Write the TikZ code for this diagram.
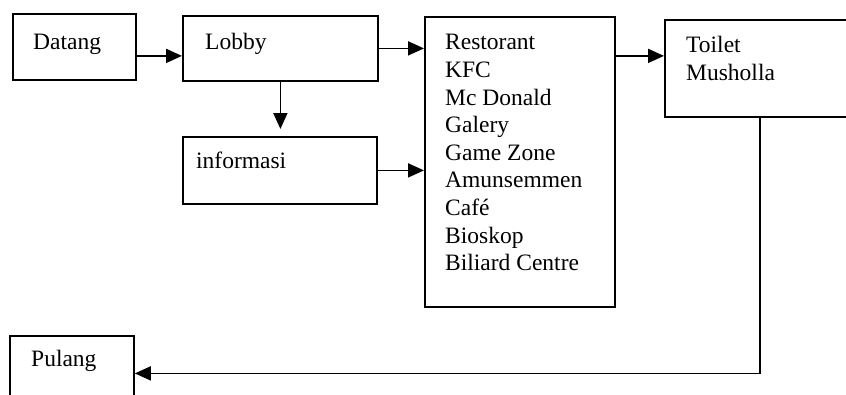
\documentclass[tikz,border=0pt]{standalone}
\usepackage{fontspec}
\setmainfont{Liberation Serif}
\usetikzlibrary{arrows.meta}
\begin{document}
\begin{tikzpicture}[x=1pt,y=-1pt,
  box/.style={draw, line width=1.8pt, inner sep=0pt, anchor=north west},
  txt/.style={inner sep=0pt, font=\fontsize{23.5}{27.6}\selectfont},
  arr/.style={line width=1.8pt, -{Triangle[length=16pt,width=14pt]}}]
\useasboundingbox (0,0) rectangle (846,394);
\clip (0,0) rectangle (846,394);
% boxes
\node[box, minimum width=123pt, minimum height=66pt] (datang) at (12,13) {};
\node[box, minimum width=195pt, minimum height=65pt] (lobby) at (182,15) {};
\node[box, minimum width=194pt, minimum height=67pt] (info) at (182,136) {};
\node[box, minimum width=190pt, minimum height=290pt] (rest) at (424,16) {};
\node[box, minimum width=210pt, minimum height=97pt] (toilet) at (664,19) {};
\node[box, minimum width=124pt, minimum height=75pt] (pulang) at (9,335) {};
% texts
\node[txt, anchor=base west] (tdatang) at (33,49) {Datang};
\node[txt, anchor=base west] (tlobby) at (205,49) {Lobby};
\node[txt, anchor=base west] (tinfo) at (196,168) {informasi};
\node[txt, anchor=north west, align=left] (trest) at (445,34.4)
  {Restorant\\KFC\\Mc Donald\\Galery\\Game Zone\\Amunsemmen\\Café\\Bioskop\\Biliard Centre};
\node[txt, anchor=north west, align=left] (ttoilet) at (686,35.9) {Toilet\\Musholla};
\node[txt, anchor=base west] (tpulang) at (31,366) {Pulang};
% connectors
\draw[arr] ([yshift=-9pt]datang.east) -- ([yshift=-9pt]datang.east -| lobby.west);
\draw[arr] (lobby.east) -- (lobby.east -| rest.west);
\draw[arr, shorten >=7pt] (lobby.south) -- (lobby.south |- info.north);
\draw[arr] (info.east) -- (info.east -| rest.west);
\draw[arr] ([yshift=12.5pt]toilet.west -| rest.east) -- ([yshift=12.5pt]toilet.west);
\draw[arr] ([xshift=96pt]toilet.south west) |- (pulang.east);
\end{tikzpicture}
\end{document}
